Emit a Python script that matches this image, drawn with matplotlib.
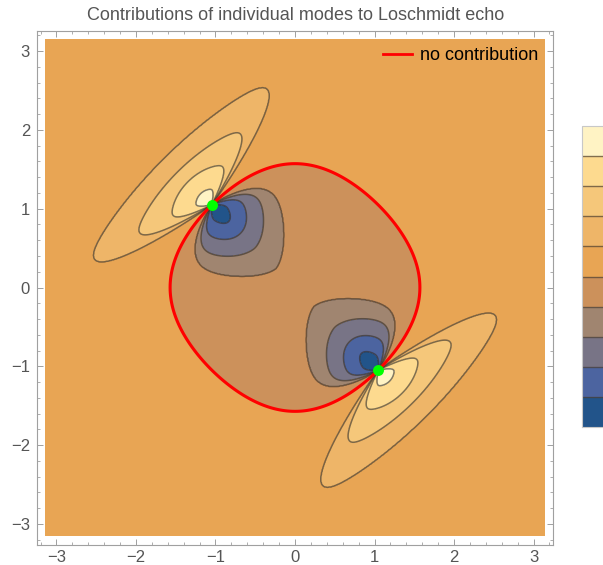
import numpy as np
import matplotlib
matplotlib.use("Agg")
import matplotlib.pyplot as plt
from matplotlib.colors import ListedColormap, BoundaryNorm
from matplotlib.lines import Line2D
import matplotlib.colorbar as mcolorbar

plt.rcParams['font.family'] = ['Liberation Sans', 'DejaVu Sans']

title = "Contributions of individual modes to Loschmidt echo"
legend_label = "no contribution"

# critical momenta (green points, where the zero curve is pinched)
crit_x = [-np.pi / 3, np.pi / 3]
crit_y = [np.pi / 3, -np.pi / 3]

# contour level index 0..5 (levels 1..4 are drawn on each side)
level_idx = [0, 1, 2, 3, 4, 5]
# positive lobes (outside zero curve), local polar coords around each point
pos_angle = [2, 10, 13, 18, 33, 85]                 # opening angle (deg) from tangent
pos_soft = [6, 6, 6, 6, 6, 6]                       # softness of the opening (deg)
pos_tan = [6.0, 2.33, 1.30, 0.58, 0.20, 1e-4]       # reach along tangent
pos_norm = [2.5, 0.84, 0.60, 0.42, 0.20, 1e-4]      # reach along outward normal
pos_shape = [2.0, 2.0, 2.0, 2.0, 2.0, 2.0]          # superellipse exponent
# negative lobes (inside zero curve)
neg_angle = [3, 12, 16, 22, 38, 85]
neg_soft = [14, 14, 12, 10, 8, 8]
neg_tan = [3.0, 0.85, 0.60, 0.35, 0.14, 1e-4]
neg_norm = [3.0, 1.14, 0.77, 0.51, 0.30, 1e-4]
neg_shape = [1.5, 1.5, 1.7, 2.0, 2.0, 2.0]

colors = ['#22548A', '#4C64A0', '#787486', '#A08570', '#CC915B',
          '#E8A554', '#EEB568', '#F5C77A', '#FDDA8F', '#FFF3C4']
tick_vals = [-3, -2, -1, 0, 1, 2, 3]

# ---------------------------------------------------------------- field
n = 701
xs = np.linspace(-np.pi, np.pi, n)
X, Y = np.meshgrid(xs, xs)
Bz = 1 - np.cos(X) - np.cos(Y)   # zero curve: cos kx + cos ky = 1


def make_inside(angles, softs, reach_t, reach_n, shapes):
    ang = np.radians(angles)
    sft = np.radians(softs)

    def inside(lam, phi, r):
        al = np.interp(lam, level_idx, ang)
        sf = np.interp(lam, level_idx, sft)
        a = np.interp(lam, level_idx, reach_t)
        b = np.interp(lam, level_idx, reach_n)
        p = np.interp(lam, level_idx, shapes)
        s1 = np.tanh(np.clip((phi - al) / sf, 0, None))
        s2 = np.tanh(np.clip((np.pi - al - phi) / sf, 0, None))
        env = (np.abs(np.cos(phi) / a) ** p + np.abs(np.sin(phi) / b) ** p) ** (-1.0 / p)
        return r < env * s1 * s2
    return inside


inside_pos = make_inside(pos_angle, pos_soft, pos_tan, pos_norm, pos_shape)
inside_neg = make_inside(neg_angle, neg_soft, neg_tan, neg_norm, neg_shape)


def solve(inside_fn, phi, r):
    lo = np.zeros_like(phi)
    hi = np.full_like(phi, 5.0)
    for _ in range(26):
        mid = 0.5 * (lo + hi)
        ins = inside_fn(mid, phi, r)
        lo = np.where(ins, mid, lo)
        hi = np.where(ins, hi, mid)
    return lo


Fp = np.zeros_like(X)
Fn = np.zeros_like(X)
for px, py in zip(crit_x, crit_y):
    rr = np.hypot(px, py)
    nx, ny = px / rr, py / rr
    tx, ty = -ny, nx
    u = (X - px) * nx + (Y - py) * ny
    t = (X - px) * tx + (Y - py) * ty
    r = np.hypot(u, t)
    phi_out = np.arctan2(u, t)      # in (0, pi) on the outer side
    phi_in = np.arctan2(-u, t)      # in (0, pi) on the inner side
    Fp = np.maximum(Fp, np.where(u > 0, solve(inside_pos, phi_out, r), 0))
    Fn = np.maximum(Fn, np.where(u < 0, solve(inside_neg, phi_in, r), 0))

Fp = np.where(Fp < 1, 0.3 + 0.7 * Fp, Fp)
Fn = np.where(Fn < 1, 0.3 + 0.7 * Fn, Fn)
F = np.where(Bz >= 0, Fp, -Fn)

# ---------------------------------------------------------------- figure
W_PX, H_PX = 603, 565
fig = plt.figure(figsize=(W_PX / 100, H_PX / 100), dpi=100)
ax = fig.add_axes([37 / W_PX, 1 - 544.5 / H_PX, 516 / W_PX, 514 / H_PX])

levels = [-5.01, -4, -3, -2, -1, 0, 1, 2, 3, 4, 5.01]
cmap = ListedColormap(colors)
ax.contourf(X, Y, F, levels=levels, colors=colors)
ax.contour(X, Y, F, levels=[-4, -3, -2, -1, 1, 2, 3, 4],
           colors=[(0.2, 0.18, 0.16)], linewidths=1.1, alpha=0.62,
           linestyles='solid')
ax.contour(X, Y, Bz, levels=[0], colors='#FF0000', linewidths=2.2)
ax.scatter(crit_x, crit_y, s=62, color='#00FF00', zorder=5, linewidths=0)

ax.set_xlim(-3.245, 3.245)
ax.set_ylim(-3.26, 3.26)
ax.set_xticks(tick_vals)
ax.set_yticks(tick_vals)
ax.set_xticks(np.arange(-3.2, 3.21, 0.2), minor=True)
ax.set_yticks(np.arange(-3.2, 3.21, 0.2), minor=True)
ax.tick_params(which='both', direction='in', top=True, right=True,
               color='#A0A0A0', labelcolor='#555555')
ax.tick_params(which='major', length=4.3, width=0.7, labelsize=12)
ax.tick_params(which='minor', length=2.5, width=0.6)
ax.tick_params(axis='y', pad=5)
ax.tick_params(axis='x', pad=4)
for sp in ax.spines.values():
    sp.set_color('#A0A0A0')
    sp.set_linewidth(0.8)

handle = Line2D([0], [0], color='#FF0000', lw=2)
ax.legend([handle], [legend_label], loc='upper right',
          bbox_to_anchor=(0.972, 0.968), frameon=False, fontsize=13,
          handlelength=1.6, handletextpad=0.45, borderaxespad=0,
          borderpad=0)

fig.text(0.490, 1 - 15 / H_PX, title, ha='center', va='center',
         fontsize=13, color='#555555')

# colorbar (partially cut at the right edge as in the reference)
cax = fig.add_axes([582 / W_PX, 1 - 427 / H_PX, 0.06, 301 / H_PX])
norm = BoundaryNorm(levels, cmap.N)
cb = mcolorbar.ColorbarBase(cax, cmap=cmap, norm=norm, boundaries=levels,
                            spacing='uniform', drawedges=True)
cb.set_ticks([])
cb.outline.set_edgecolor('#C8C8C8')
cb.outline.set_linewidth(0.8)
cb.dividers.set_color((0.3, 0.25, 0.2, 0.7))
cb.dividers.set_linewidth(1.0)

fig.savefig("out.png", dpi=100)
